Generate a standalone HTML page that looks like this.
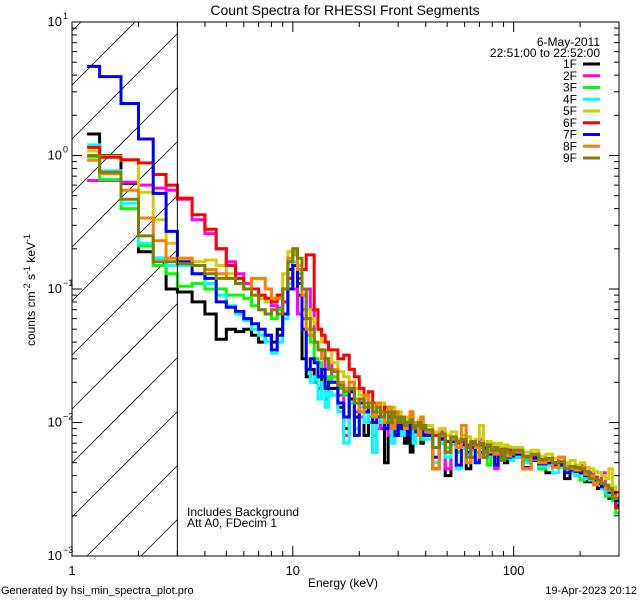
<!DOCTYPE html>
<html><head><meta charset="utf-8"><style>
html,body{margin:0;padding:0;background:#fff;width:640px;height:600px;overflow:hidden;}
svg{display:block;font-family:"Liberation Sans",sans-serif;}
</style></head><body>
<svg id="chart" width="640" height="600" viewBox="0 0 640 600" xmlns="http://www.w3.org/2000/svg">
<rect width="640" height="600" fill="#fff"/>
<text x="345" y="15" font-size="14" text-anchor="middle">Count Spectra for RHESSI Front Segments</text>
<defs><clipPath id="pc"><rect x="72" y="22" width="547" height="534"/></clipPath></defs>
<g id="hatch" stroke="#000" stroke-width="0.8"></g>
<g id="series" clip-path="url(#pc)"></g>
<g id="axes"></g>
<g font-size="12" id="legend">
<text x="600" y="46" text-anchor="end">6-May-2011</text>
<text x="600" y="57" text-anchor="end">22:51:00 to 22:52:00</text>
</g>
<text x="187" y="516" font-size="12">Includes Background</text>
<text x="187" y="527" font-size="12">Att A0, FDecim 1</text>
<text x="343" y="587" font-size="12" text-anchor="middle">Energy (keV)</text>
<text transform="translate(35,290) rotate(-90)" font-size="12" text-anchor="middle">counts cm<tspan dy="-5" font-size="9">-2</tspan><tspan dy="5"> s</tspan><tspan dy="-5" font-size="9">-1</tspan><tspan dy="5"> keV</tspan><tspan dy="-5" font-size="9">-1</tspan></text>
<text x="1" y="594" font-size="11">Generated by hsi_min_spectra_plot.pro</text>
<text x="637" y="594" font-size="11" text-anchor="end">19-Apr-2023 20:12</text>
</svg>
<script>
const segments = ["1F","2F","3F","4F","5F","6F","7F","8F","9F"];
const colors = ["#000000","#ff00ff","#00ff00","#00ffff","#d0d000","#ff0000","#0000ff","#ff8000","#808000"];
const xTickLabels = ["1","10","100"];
const yTickExps = ["1","0","-1","-2","-3"];
const s1F = [1.45,1.0,0.62,0.19,0.17,0.10, .095,.08,.065,.042,.05,.048,.05,.045,.04,.045,.04,.05,.08,.14,.15,.09,.03,.022,.025,.02,.018,.022,.015,.018, .018,.013,.009,.015,.011,.012,.008,.012,.006,.011,.009,.005,.01,.009,.011,.008,.009,.007,.01,.006,.009,.008,.0095,.007,.008, .008,.0045,.007,.004,.0075,.006,.0068,.0045,.007,.006,.0055,.0068,.006,.0058,.0048,.006,.0055,.005,.006,.0056, .0055,.0045,.0052,.0048,.0042,.005,.0046,.0038,.0042,.004,.0042,.0036,.0036,.0038,.0032,.0032,.003,.0027,.0028,.0024];
const s2F = [0.65,0.65,0.63,0.6,0.57,0.55, .47,.33,.26,.2,.16,.13,.11,.1,.085,.08,.075,.072,.08,.12,.1,.065,.06,.1,.07,.04,.035,.03,.025,.028, .02,.016,.008,.017,.012,.011,.014,.01,.012,.009,.011,.01,.008,.012,.01,.009,.011,.0085,.01,.009,.0095,.008,.009,.01,.0085, .008,.0065,.0085,.0045,.0075,.006,.0072,.0065,.0055,.0068,.0075,.006,.0062,.0065,.0045,.0058,.0062,.0056,.006,.0058, .006,.0055,.0058,.0045,.0052,.0048,.0055,.0046,.0045,.0043,.0048,.004,.0042,.0038,.0036,.0042,.0032,.003,.0028,.0026];
const s3F = [0.98,0.66,0.40,0.21,0.15,0.13, .105,.11,.1,.1,.09,.09,.085,.075,.07,.065,.06,.07,.1,.16,.18,.13,.07,.045,.04,.03,.028,.025,.022,.02, .022,.018,.016,.014,.015,.012,.013,.011,.008,.012,.011,.01,.012,.009,.011,.01,.009,.01,.0095,.008,.009,.0085,.01,.0075,.009, .0085,.0065,.0075,.0065,.0072,.006,.007,.0055,.0068,.006,.0065,.0062,.0048,.0064,.0062,.006,.0057,.0062,.0058,.0055, .0058,.0052,.0055,.0045,.0048,.005,.0046,.0045,.0042,.0043,.0037,.004,.0038,.0036,.0034,.0033,.0028,.0028,.0026,.0021];
const s4F = [1.2,0.77,0.44,0.22,0.17,0.15, .15,.13,.11,.09,.075,.065,.058,.05,.045,.04,.033,.04,.06,.11,.16,.12,.05,.025,.02,.022,.015,.02,.013,.017, .016,.012,.007,.014,.009,.013,.01,.012,.006,.011,.01,.009,.011,.007,.01,.009,.008,.01,.0085,.009,.007,.0095,.008,.009,.0075, .0075,.005,.007,.0055,.0068,.0045,.0064,.0058,.0062,.0052,.0058,.0056,.0062,.0057,.006,.0055,.0058,.0054,.0056,.0052, .0055,.005,.0053,.0047,.0048,.0042,.0046,.0043,.0042,.004,.0041,.0038,.0037,.0035,.0034,.0032,.003,.0029,.0027,.0025];
const s5F = [1.08,0.99,0.92,0.53,0.33,0.22, .17,.16,.165,.15,.13,.12,.1,.09,.085,.08,.085,.09,.13,.19,.2,.15,.1,.07,.06,.055,.05,.04,.04,.035, .028,.024,.022,.02,.018,.016,.015,.014,.013,.012,.014,.012,.011,.013,.011,.012,.01,.011,.0105,.012,.01,.009,.0105,.01,.009, .0095,.0085,.009,.008,.0085,.0075,.008,.0078,.0072,.0075,.0095,.007,.0072,.007,.0068,.007,.0065,.0068,.0066,.0064, .0065,.006,.0062,.0056,.0058,.0054,.0055,.005,.0052,.0048,.005,.0046,.0045,.0043,.0042,.004,.0038,.0045,.0033,.003];
const s6F = [1.15,0.97,0.93,0.88,0.72,0.6, .48,.36,.28,.2,.15,.12,.1,.1,.09,.085,.08,.09,.1,.12,.15,.12,.14,.18,.18,.07,.05,.045,.04,.035, .035,.03,.032,.025,.022,.018,.016,.017,.014,.013,.012,.013,.011,.012,.01,.011,.01,.0095,.01,.009,.0095,.009,.01,.0085,.009, .0085,.008,.0078,.0072,.0075,.007,.0072,.0068,.007,.0066,.0068,.0065,.0066,.0062,.0065,.006,.0063,.006,.0062,.0058, .006,.0056,.0055,.0052,.0053,.005,.0049,.0047,.0046,.0045,.0044,.0042,.004,.0039,.0037,.0035,.0033,.0031,.003,.0023];
const s7F = [4.65,3.9,2.45,1.33,0.52,0.27, .16,.13,.12,.08,.073,.068,.06,.055,.05,.045,.035,.045,.065,.1,.15,.11,.05,.025,.03,.028,.022,.025,.018,.02, .02,.014,.011,.017,.008,.014,.012,.013,.01,.011,.012,.009,.011,.01,.008,.011,.009,.01,.008,.0095,.009,.0085,.01,.008,.009, .008,.0055,.0075,.006,.0072,.0048,.0068,.006,.0065,.005,.006,.0064,.0058,.0062,.0048,.006,.0056,.0058,.0055,.0056, .0058,.0046,.0054,.0049,.005,.0047,.0048,.0042,.0044,.0043,.0042,.004,.0039,.0037,.0035,.0033,.0032,.003,.0028,.0026];
const s8F = [0.92,0.73,0.55,0.34,0.23,0.17, .17,.15,.14,.13,.12,.11,.1,.12,.12,.1,.085,.085,.1,.17,.19,.14,.09,.05,.045,.04,.035,.03,.03,.025, .025,.02,.018,.02,.015,.012,.016,.013,.011,.014,.012,.01,.013,.009,.012,.01,.011,.009,.01,.012,.009,.01,.008,.011,.009, .0085,.0045,.008,.006,.0075,.0065,.0095,.005,.0072,.0065,.0055,.0068,.006,.0065,.0058,.0062,.0058,.006,.0056,.0058, .006,.0045,.0058,.005,.0052,.0046,.0055,.0047,.0045,.0044,.0046,.0041,.004,.0034,.0036,.0035,.0032,.0031,.0028,.0027];
const s9F = [1.0,0.75,0.47,0.25,0.16,0.16, .155,.15,.13,.12,.12,.11,.1,.09,.07,.065,.07,.065,.1,.16,.2,.17,.1,.06,.05,.04,.035,.035,.03,.025, .024,.019,.017,.018,.014,.015,.013,.014,.012,.013,.011,.012,.01,.012,.011,.01,.011,.0095,.01,.0105,.009,.0095,.01,.009,.0095, .0088,.0065,.0082,.006,.0078,.0072,.0075,.0055,.0072,.0068,.007,.0055,.0068,.0062,.0065,.0062,.0052,.0063,.006,.0058, .0062,.0056,.0058,.0053,.0054,.005,.0051,.0045,.0047,.0046,.0045,.0043,.0038,.0038,.0037,.0035,.0034,.0032,.0027,.0027];
const seriesData = [s1F,s2F,s3F,s4F,s5F,s6F,s7F,s8F,s9F];

const edges = [1.17,1.333,1.667,2,2.333,2.667,3];
for (let i=1;i<=24;i++) edges.push(3+i*0.5);
for (let i=1;i<=25;i++) edges.push(15+i);
for (let i=1;i<=20;i++) edges.push(40+i*3);
for (let i=1;i<=20;i++) edges.push(100+i*10);

const L=72,R=619,T=22,B=556, XMIN=1, XMAX=300, YMIN=-3, YMAX=1;
function xs(e){return L+(Math.log10(e)-Math.log10(XMIN))/(Math.log10(XMAX)-Math.log10(XMIN))*(R-L);}
function ys(v){return T+(YMAX-Math.log10(v))/(YMAX-YMIN)*(B-T);}
const NS="http://www.w3.org/2000/svg";
function mk(tag,attrs,parent){const el=document.createElementNS(NS,tag);for(const k in attrs)el.setAttribute(k,attrs[k]);parent.appendChild(el);return el;}

// hatch lines, clipped manually to the region x in [L, x3], y in [T, B]
const hatch=document.getElementById('hatch');
const X3=xs(3);
for(let k=-3;k<12;k++){
  const c=85+k*54; // line: y = c - (x - L)
  let xa=L, ya=c;
  if(ya>B){xa=L+(ya-B); ya=B;}
  let xb=X3, yb=c-(X3-L);
  if(yb<T){xb=L+(c-T); yb=T;}
  if(xa>=xb || ya<=T) continue;
  const ln=mk('line',{x1:xa,y1:ya,x2:xb,y2:yb},hatch);
  
  
}
const axes=document.getElementById('axes');
const vl=mk('line',{x1:X3,y1:T,x2:X3,y2:B,stroke:'#000','stroke-width':1},axes);



const sg=document.getElementById('series');
seriesData.forEach((vals,si)=>{
  let d='';
  for(let i=0;i<vals.length;i++){
    const y=ys(vals[i]).toFixed(1), x0=xs(edges[i]).toFixed(1), x1=xs(edges[i+1]).toFixed(1);
    d+=(i===0?'M':'L')+x0+','+y+'L'+x1+','+y;
  }
  const p=mk('path',{d:d,fill:'none',stroke:colors[si],'stroke-width':3,'stroke-linejoin':'miter'},sg);
  
  
});

const fr=mk('rect',{x:L,y:T,width:R-L,height:B-T,fill:'none',stroke:'#000','stroke-width':1},axes);



for(let dec=1;dec<=100;dec*=10){
  for(let m=1;m<=9;m++){
    const e=dec*m; if(e>XMAX) break;
    const x=xs(e), len=(m===1)?10:5;
    const t1=mk('line',{x1:x,y1:B,x2:x,y2:B-len,stroke:'#000'},axes);
    
    
    const t2=mk('line',{x1:x,y1:T,x2:x,y2:T+len,stroke:'#000'},axes);
    
    
  }
}
xTickLabels.forEach(lbl=>{
  const t=mk('text',{x:xs(parseFloat(lbl)),y:575,'font-size':13,'text-anchor':'middle'},axes);
  t.textContent=lbl;
  
  
});
for(let p=YMIN;p<YMAX;p++){
  for(let m=1;m<=9;m++){
    const y=ys(m*Math.pow(10,p)), len=(m===1)?10:5;
    const a=mk('line',{x1:L,y1:y,x2:L+len,y2:y,stroke:'#000'},axes);
    
    
    const b=mk('line',{x1:R,y1:y,x2:R-len,y2:y,stroke:'#000'},axes);
    
    
  }
}
yTickExps.forEach(ex=>{
  const y=ys(Math.pow(10,parseFloat(ex)));
  const t=mk('text',{x:62,y:y+4,'font-size':13,'text-anchor':'end'},axes);
  t.textContent='10';
  
  
  const s=mk('text',{x:63,y:y-3,'font-size':9},axes);
  s.textContent=ex.replace('-','\u2212');
  
  
});
const lg=document.getElementById('legend');
segments.forEach((s,i)=>{
  const y=64+i*11.75;
  const t=mk('text',{x:577,y:y+4,'text-anchor':'end'},lg);
  t.textContent=s;
  
  
  const l=mk('line',{x1:583,y1:y,x2:600,y2:y,stroke:colors[i],'stroke-width':3},lg);
  
  
});
</script>
</body></html>
